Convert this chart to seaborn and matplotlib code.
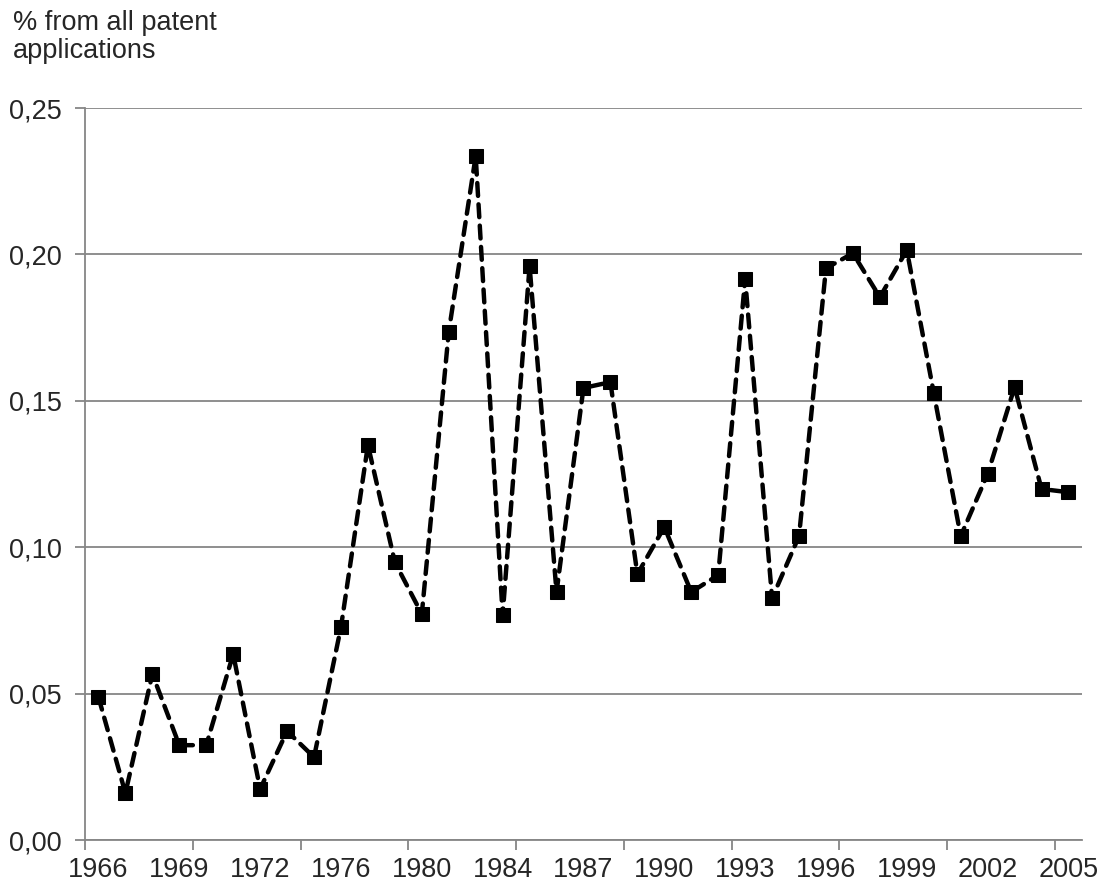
import numpy as np
import pandas as pd
import seaborn as sns
import matplotlib.pyplot as plt
from matplotlib.ticker import FuncFormatter

# categories (the series skips a few years, labels shown every 3rd point)
years = [1966, 1967, 1968, 1969, 1970, 1971, 1972, 1973, 1975, 1976,
         1977, 1979, 1980, 1981, 1983, 1984, 1985, 1986, 1987, 1988,
         1989, 1990, 1991, 1992, 1993, 1994, 1995, 1996, 1997, 1998,
         1999, 2000, 2001, 2002, 2003, 2004, 2005]
share = [0.0488, 0.0160, 0.0567, 0.0324, 0.0324, 0.0635, 0.0174, 0.0372, 0.0283, 0.0727,
         0.1349, 0.0949, 0.0772, 0.1736, 0.2336, 0.0768, 0.1960, 0.0847, 0.1544, 0.1564,
         0.0908, 0.1069, 0.0847, 0.0905, 0.1916, 0.0826, 0.1038, 0.1953, 0.2004, 0.1854,
         0.2015, 0.1527, 0.1038, 0.1250, 0.1547, 0.1199, 0.1188]
y_ticks = [0.0, 0.05, 0.10, 0.15, 0.20, 0.25]
y_label = "% from all patent\napplications"

df = pd.DataFrame({"pos": np.arange(len(years)), "year": years, "share": share})

sns.set_style("white")
plt.rcParams["font.family"] = ["Liberation Sans", "DejaVu Sans"]
grey = "#868686"
fs = 19.5

fig = plt.figure(figsize=(11.01, 8.85), dpi=100)
ax = fig.add_axes([0.0772, 0.0508, 0.9055, 0.8271])

sns.lineplot(data=df, x="pos", y="share", ax=ax, color="black",
             marker="s", markersize=9.5, markeredgecolor="black",
             linewidth=3.2)
line = ax.lines[0]
line.set_dashes((2.9, 1.9))
line.set_dash_capstyle("round")

ax.set_xlim(-0.5, len(years) - 0.5)
ax.set_ylim(0, 0.25)

# tick marks on category boundaries every 4 points, labels every 3 points
ax.set_xticks(np.arange(-0.5, len(years) - 0.5, 4))
ax.set_xticklabels([])
lab_pos = np.arange(0, len(years), 3)
ax.set_xticks(lab_pos, minor=True)
ax.set_xticklabels([str(years[i]) for i in lab_pos], minor=True)
ax.tick_params(axis="x", which="major", length=7, width=1.3, color=grey, direction="out", bottom=True)
ax.tick_params(axis="x", which="minor", length=0, pad=12, labelsize=fs)

ax.set_yticks(y_ticks)
ax.yaxis.set_major_formatter(FuncFormatter(lambda v, p: f"{v:.2f}".replace(".", ",")))
ax.tick_params(axis="y", length=7, width=1.3, color=grey, direction="out", left=True, pad=10, labelsize=fs)

ax.grid(axis="y", color=grey, linewidth=1.3)
ax.grid(axis="x", visible=False)
for s in ["top", "right"]:
    ax.spines[s].set_visible(False)
for s in ["left", "bottom"]:
    ax.spines[s].set_color(grey)
    ax.spines[s].set_linewidth(1.3)
ax.set_xlabel("")
ax.set_ylabel("")

fig.text(0.012, 1 - 10 / 885, y_label, fontsize=fs, va="top", ha="left", linespacing=1.1)

fig.savefig("out.png", dpi=100)
